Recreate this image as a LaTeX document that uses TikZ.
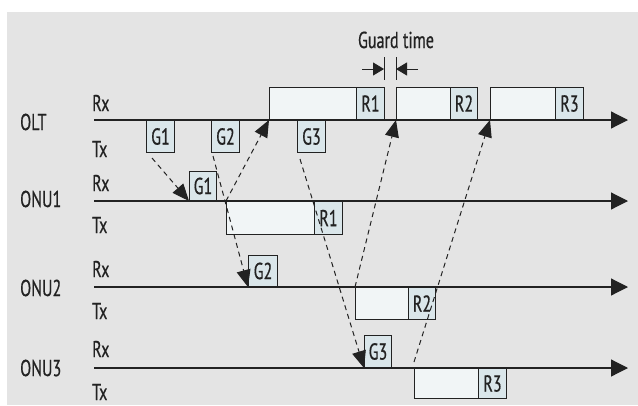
\documentclass[tikz,border=0pt]{standalone}
\usepackage{fontspec}
\setmainfont{PT Sans}[FakeStretch=0.7, FakeBold=0.5]
\usetikzlibrary{arrows.meta}
\definecolor{panel}{HTML}{E4E4E4}
\definecolor{slot}{HTML}{DAE6EA}
\definecolor{burst}{HTML}{F1F5F6}
\definecolor{ink}{HTML}{222222}

\begin{document}
\begin{tikzpicture}[x=1pt,y=-1pt,
  font=\fontsize{23}{25}\selectfont, text=ink,
  axis/.style={draw=ink, line width=1.2pt, -{Triangle[length=17pt,width=17pt]}},
  slotbox/.style={draw=ink, fill=slot, line width=1pt, inner sep=0pt,
    minimum width=28pt, minimum height=32pt},
  burstbox/.style={draw=ink, fill=burst, line width=1pt, inner sep=0pt,
    minimum height=32pt},
  msg/.style={draw=ink, dash pattern=on 5pt off 4pt, line width=1pt,
    -{Triangle[length=17pt,width=14pt]}},
  gap/.style={draw=ink, line width=1pt, -{Triangle[length=11pt,width=13pt]}},
  lbl/.style={anchor=west, inner sep=0pt}]

% canvas and grey panel
\useasboundingbox (0,0) rectangle (638,405);
\fill[white] (0,0) rectangle (638,405);
\fill[panel] (7,12) rectangle (638,405);

% station names and Rx/Tx labels
\node[lbl] (nolt) at (20,122) {OLT};
\node[lbl] (nonu1) at (20,199) {ONU1};
\node[lbl] (nonu2) at (20,288) {ONU2};
\node[lbl] (nonu3) at (20,368) {ONU3};
\node[lbl] (rxolt) at (92,103) {Rx};
\node[lbl] (txolt) at (92,149) {Tx};
\node[lbl] (rx1) at (92,183) {Rx};
\node[lbl] (tx1l) at (92,225) {Tx};
\node[lbl] (rx2) at (92,269) {Rx};
\node[lbl] (tx2l) at (92,311) {Tx};
\node[lbl] (rx3) at (92,349) {Rx};
\node[lbl] (tx3l) at (92,392) {Tx};

% time axes
\coordinate (a0s) at (94,120);  \coordinate (a0e) at (628,120);
\coordinate (a1s) at (94,201);  \coordinate (a1e) at (628,201);
\coordinate (a2s) at (94,287);  \coordinate (a2e) at (628,287);
\coordinate (a3s) at (94,368);  \coordinate (a3e) at (628,368);
\draw[axis] (a0s) -- (a0e);
\draw[axis] (a1s) -- (a1e);
\draw[axis] (a2s) -- (a2e);
\draw[axis] (a3s) -- (a3e);

% OLT: grants sent (Tx) and bursts received (Rx)
\node[slotbox, anchor=north west] (g1o) at (146,120) {G1};
\node[slotbox, anchor=north west] (g2o) at (211,120) {G2};
\node[slotbox, anchor=north west] (g3o) at (297,120) {G3};
\node[burstbox, anchor=south west, minimum width=115pt] (r1big) at (269,120) {};
\node[slotbox, anchor=south east] (r1o) at (r1big.south east) {R1};
\node[burstbox, anchor=south west, minimum width=81pt] (r2big) at (396,120) {};
\node[slotbox, anchor=south east, minimum width=27pt] (r2o) at (r2big.south east) {R2};
\node[burstbox, anchor=south west, minimum width=93pt] (r3big) at (490,120) {};
\node[slotbox, anchor=south east] (r3o) at (r3big.south east) {R3};

% ONU1
\node[slotbox, anchor=south west, minimum width=27pt, minimum height=29pt] (g1n) at (189,201) {G1};
\node[burstbox, anchor=north west, minimum width=116pt, minimum height=33pt] (tx1) at (226,201) {};
\node[slotbox, anchor=north east, minimum height=33pt] (r1n) at (tx1.north east) {R1};

% ONU2
\node[slotbox, anchor=south west, minimum width=29pt, minimum height=31pt] (g2n) at (248,287) {G2};
\node[burstbox, anchor=north west, minimum width=80pt] (tx2) at (355,287) {};
\node[slotbox, anchor=north east, minimum width=27pt] (r2n) at (tx2.north east) {R2};

% ONU3
\node[slotbox, anchor=south west, minimum width=27pt] (g3n) at (364,368) {G3};
\node[burstbox, anchor=north west, minimum width=92pt, minimum height=30pt] (tx3) at (414,368) {};
\node[slotbox, anchor=north east, minimum height=30pt] (r3n) at (tx3.north east) {R3};

% grants travelling downstream
\draw[msg] ([xshift=6pt,yshift=-5pt]g1o.south west) -- (g1n.south west);
\draw[msg] ([xshift=2pt,yshift=-3pt]g2o.south west) -- (g2n.south west);
\draw[msg] ([xshift=3pt,yshift=-6pt]g3o.south west) -- (g3n.south west);

% bursts travelling upstream
\draw[msg] (tx1.north west) -- (r1big.south west);
\draw[msg] (tx2.north west) -- (r2big.south west);
\draw[msg] ([yshift=6pt]tx3.north west) -- (r3big.south west);

% guard time marker
\node[anchor=base, inner sep=0pt] (gt) at (396,48) {Guard time};
\coordinate (ga) at (384,57); \coordinate (gb) at (384,80);
\coordinate (gc) at (396,57); \coordinate (gd) at (396,80);
\draw[ink, line width=1pt] (ga) -- (gb);
\draw[ink, line width=1pt] (gc) -- (gd);
\coordinate (gl) at (362,69); \coordinate (gr) at (418,69);
\draw[gap] (gl) -- (384,69);
\draw[gap] (gr) -- (396,69);
\end{tikzpicture}
\end{document}
